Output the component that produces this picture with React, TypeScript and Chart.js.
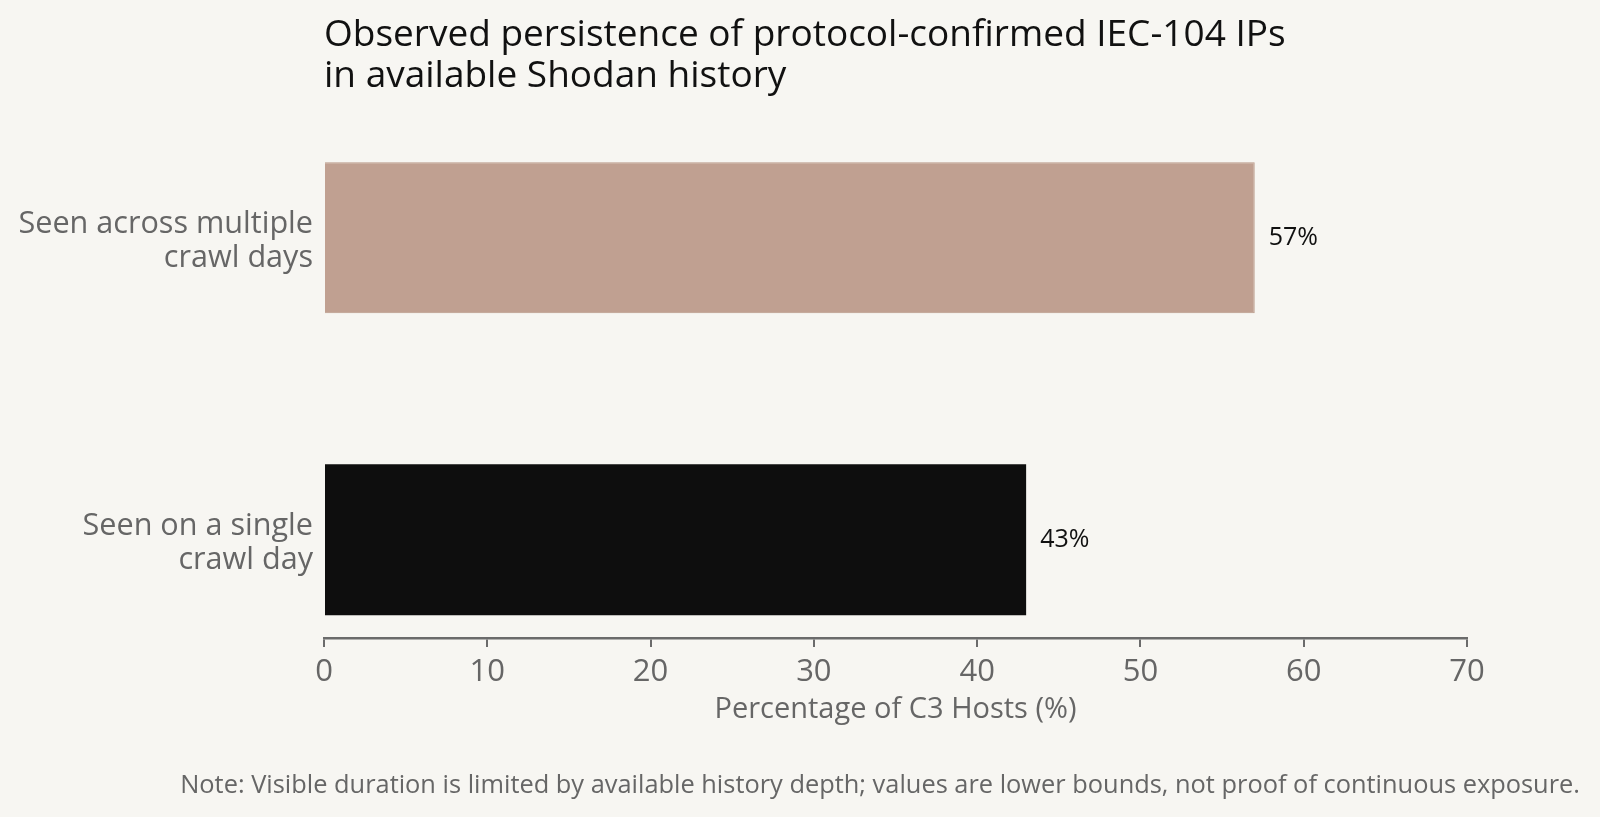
import React, { useEffect, useRef } from "react";
import { Chart, registerables } from "chart.js";

Chart.register(...registerables);

const categories: string[][] = [
    ["Seen across multiple", "crawl days"],
    ["Seen on a single", "crawl day"],
];
const shares: number[] = [57, 43];
const barColors: string[] = ["#c0a091", "#0e0e0e"];
const barEdges: string[] = ["#b89888", "#0e0e0e"];
const xTicks: number[] = [0, 10, 20, 30, 40, 50, 60, 70];
const titleLines: string[] = [
    "Observed persistence of protocol-confirmed IEC-104 IPs",
    "in available Shodan history",
];
const axisTitle = "Percentage of C3 Hosts (%)";
const note =
    "Note: Visible duration is limited by available history depth; values are lower bounds, not proof of continuous exposure.";

const BG = "#f7f6f2";
const GREY = "#666666";
const FONT = "'Open Sans', 'Noto Sans', sans-serif";

const decorations = {
    id: "decorations",
    beforeDraw(chart: any) {
        const { ctx, width, height } = chart;
        ctx.save();
        ctx.fillStyle = BG;
        ctx.fillRect(0, 0, width, height);
        ctx.restore();
    },
    afterDraw(chart: any) {
        const { ctx, chartArea } = chart;
        ctx.save();
        // title
        ctx.fillStyle = "#111111";
        ctx.font = `37px ${FONT}`;
        ctx.textAlign = "left";
        ctx.textBaseline = "alphabetic";
        titleLines.forEach((line, i) => {
            ctx.fillText(line, chartArea.left, 46 + i * 41);
        });
        // value labels
        const meta = chart.getDatasetMeta(0);
        ctx.font = `25px ${FONT}`;
        ctx.textBaseline = "middle";
        meta.data.forEach((bar: any, i: number) => {
            ctx.fillText(`${shares[i]}%`, bar.x + 14, bar.y);
        });
        // note
        ctx.fillStyle = GREY;
        ctx.font = `25.4px ${FONT}`;
        ctx.textAlign = "right";
        ctx.textBaseline = "alphabetic";
        ctx.fillText(note, 1580, 793);
        ctx.restore();
    },
};

const App: React.FC = () => {
    const chartRef = useRef<HTMLCanvasElement | null>(null);

    useEffect(() => {
        document.body.style.margin = "0";
        document.body.style.background = BG;
        if (!chartRef.current) return;
        const ctx = chartRef.current.getContext("2d");
        if (!ctx) return;

        const chart = new Chart(ctx, {
            type: "bar",
            data: {
                datasets: [
                    {
                        data: shares.map((v, i) => ({ x: v, y: i })),
                        backgroundColor: barColors,
                        borderColor: barEdges,
                        borderWidth: [1, 0],
                        barPercentage: 0.5,
                        categoryPercentage: 1,
                    },
                ],
            },
            options: {
                indexAxis: "y",
                animation: false,
                responsive: false,
                devicePixelRatio: 1,
                layout: { padding: { top: 139.5, right: 133, bottom: 89.5, left: 0 } },
                plugins: {
                    legend: { display: false },
                    tooltip: { enabled: false },
                },
                scales: {
                    y: {
                        type: "linear",
                        min: -0.325,
                        max: 1.325,
                        reverse: true,
                        offset: false,
                        grid: { display: false, drawTicks: false, offset: false },
                        border: { display: false },
                        afterBuildTicks: (scale: any) => {
                            scale.ticks = categories.map((_, i) => ({ value: i }));
                        },
                        afterFit: (scale: any) => {
                            scale.width = 324;
                        },
                        ticks: {
                            padding: 11,
                            labelOffset: 3.5,
                            color: GREY,
                            font: { family: FONT, size: 30.6, lineHeight: 1.12 },
                            callback: (v: any) => categories[Number(v)] ?? "",
                        },
                    },
                    x: {
                        type: "linear",
                        min: xTicks[0],
                        max: xTicks[xTicks.length - 1],
                        afterBuildTicks: (scale: any) => {
                            scale.ticks = xTicks.map((v) => ({ value: v }));
                        },
                        afterFit: (scale: any) => {
                            scale.height = 89.5;
                        },
                        grid: {
                            display: true,
                            drawOnChartArea: false,
                            drawTicks: true,
                            tickLength: 9,
                            color: "#6b6b6b",
                            lineWidth: 2,
                        },
                        border: { display: true, color: "#6b6b6b", width: 2.5 },
                        ticks: {
                            padding: 7,
                            color: GREY,
                            font: { family: FONT, size: 31 },
                        },
                        title: {
                            display: true,
                            text: axisTitle,
                            color: GREY,
                            font: { family: FONT, size: 29 },
                            padding: 0,
                        },
                    },
                },
            },
            plugins: [decorations],
        });

        return () => {
            chart.destroy();
        };
    }, []);

    return (
        <div style={{ width: 1600, height: 817 }}>
            <canvas ref={chartRef} width={1600} height={817}></canvas>
        </div>
    );
};

export default App;
